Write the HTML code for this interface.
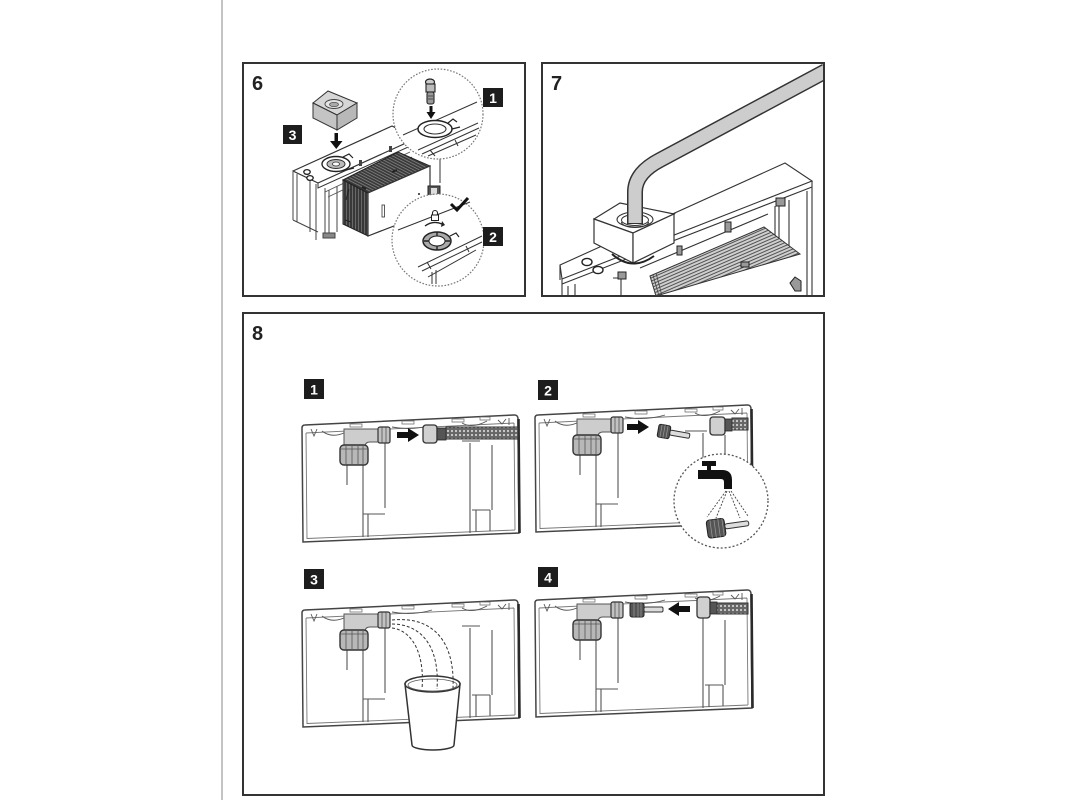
<!DOCTYPE html>
<html><head><meta charset="utf-8"><title>diagram</title>
<style>
html,body{margin:0;padding:0;background:#fff;width:1067px;height:800px;overflow:hidden}
svg{display:block}
</style></head><body>
<svg width="1067" height="800" viewBox="0 0 1067 800" xmlns="http://www.w3.org/2000/svg" font-family="'Liberation Sans', Arial, sans-serif">
<defs>
<pattern id="braid" width="4" height="4" patternUnits="userSpaceOnUse"><rect width="4" height="4" fill="#666"/><circle cx="2" cy="2" r="1.1" fill="#cfcfcf"/></pattern>
<pattern id="l6" width="2.6" height="2.6" patternUnits="userSpaceOnUse" patternTransform="rotate(27.5)"><rect width="2.6" height="2.6" fill="#3a3a3a"/><line x1="0" y1="1.3" x2="2.6" y2="1.3" stroke="#9a9a9a" stroke-width="0.6"/></pattern>
<pattern id="v6" width="3" height="3" patternUnits="userSpaceOnUse"><rect width="3" height="3" fill="#383838"/><line x1="1.5" y1="0" x2="1.5" y2="3" stroke="#8a8a8a" stroke-width="0.6"/></pattern>
<pattern id="l7" width="3" height="3" patternUnits="userSpaceOnUse" patternTransform="rotate(-23.5)"><rect width="3" height="3" fill="#cfcfcf"/><line x1="0" y1="1.5" x2="3" y2="1.5" stroke="#444" stroke-width="0.9"/></pattern>
</defs>
<rect width="1067" height="800" fill="#fff"/>
<line x1="222" y1="0" x2="222" y2="800" stroke="#c4c4c4" stroke-width="2"/>

<!-- ============ PANEL 6 ============ -->
<rect x="243" y="63" width="282" height="233" fill="#fff" stroke="#333" stroke-width="2"/>
<text x="252" y="90" font-size="20" font-weight="bold" fill="#222">6</text>

<g fill="none" stroke="#444" stroke-width="1">
<path d="M293,172 V220 M297,174 V222 M310,181 V232 M316,184 V240 M325,188 V238 M329,190 V236 M337,186 V232"/>
<path d="M293,220 L318,232"/>
<path d="M323,233 h12 v5 h-12 z" fill="#888"/>
</g>
<polygon points="293,171 392,126 417,138 318,183" fill="#fff" stroke="#333" stroke-width="1.2"/>
<path d="M318,183 L318,188 L417,143" fill="none" stroke="#333" stroke-width="1"/>
<path d="M325,192 L410,152 M328,197 L412,157" fill="none" stroke="#555" stroke-width="0.9"/>
<ellipse cx="307" cy="172" rx="3.2" ry="2.4" fill="#fff" stroke="#222" stroke-width="1.3"/>
<ellipse cx="310" cy="178" rx="3.2" ry="2.4" fill="#fff" stroke="#222" stroke-width="1.3"/>
<ellipse cx="336" cy="164" rx="14" ry="7.5" fill="#fff" stroke="#222" stroke-width="1.4"/>
<ellipse cx="336" cy="164" rx="9" ry="4.5" fill="#bbb" stroke="#333" stroke-width="1"/>
<ellipse cx="336" cy="164" rx="3.5" ry="2" fill="#fff" stroke="#333" stroke-width="0.8"/>
<path d="M343,157 l6,-3 l4,4 M346,170 l8,-2" fill="none" stroke="#222" stroke-width="1.2"/>
<rect x="359" y="160" width="3" height="6" fill="#444"/>
<rect x="389" y="146" width="3" height="6" fill="#444"/>

<polygon points="343,180 398,152 430,166 368,193" fill="url(#l6)" stroke="#222" stroke-width="1"/>
<polygon points="343,180 368,193 368,236 343,224" fill="url(#v6)" stroke="#222" stroke-width="1"/>
<polygon points="368,193 430,166 430,212 368,236" fill="#fff" stroke="#333" stroke-width="1.2"/>
<path d="M349,189 L346,200 M351,222 L345,220" stroke="#222" stroke-width="1"/>
<rect x="382" y="205" width="2.5" height="12" fill="#fff" stroke="#333" stroke-width="0.8"/>
<circle cx="419" cy="194" r="1" fill="#222"/>
<path d="M362,187 l4,2 M392,172 l5,-2" stroke="#222" stroke-width="2"/>
<path d="M440,158 V183" stroke="#333" stroke-width="1"/>
<path d="M428,186 h12 v12 h-12 z" fill="#555" stroke="#222" stroke-width="1"/>
<path d="M431,188 h6 v6 h-6 z" fill="#ddd"/>

<circle cx="438" cy="114" r="45" fill="#fff" stroke="#777" stroke-width="1.2" stroke-dasharray="1.6,1.6"/>
<g fill="none" stroke="#333" stroke-width="1">
<path d="M403,135 L477,102"/>
<path d="M418,150 L478,123 M422,154 L479,128 M428,156 L476,135"/>
<path d="M430,150 l5,6 M455,140 l3,6"/>
</g>
<ellipse cx="435" cy="129" rx="17" ry="8.5" fill="#fff" stroke="#222" stroke-width="1.5"/>
<ellipse cx="435" cy="129" rx="11" ry="5" fill="none" stroke="#333" stroke-width="1.1"/>
<path d="M448,123 l5,-4 l4,3 M452,129 l8,-2" fill="none" stroke="#222" stroke-width="1.2"/>
<ellipse cx="430" cy="82" rx="4.5" ry="3" fill="#ccc" stroke="#222" stroke-width="1.2"/>
<rect x="426" y="84" width="9" height="8" fill="#bbb" stroke="#222" stroke-width="1.1"/>
<rect x="427" y="92" width="7" height="12" rx="2" fill="#999" stroke="#222" stroke-width="1.1"/>
<path d="M428,96 h5 M428,99 h5" stroke="#333" stroke-width="0.8"/>
<path d="M429.5,106 h3 v6 h3 l-4.5,7 l-4.5,-7 h3 z" fill="#111"/>

<circle cx="438" cy="240" r="46" fill="#fff" stroke="#777" stroke-width="1.2" stroke-dasharray="1.6,1.6"/>
<g fill="none" stroke="#333" stroke-width="1">
<path d="M398,230 L470,202"/>
<path d="M418,267 L482,236 M422,271 L482,242 M428,277 L476,250"/>
<path d="M427,262 l4,7 M466,246 l3,6 M432,272 v12 M436,270 v14"/>
</g>
<ellipse cx="437" cy="241" rx="14" ry="9" fill="#aaa" stroke="#222" stroke-width="1.5"/>
<ellipse cx="437" cy="241" rx="8" ry="5" fill="#fff" stroke="#222" stroke-width="1"/>
<path d="M437,232 v4 M437,246 v4 M424,241 h5 M445,241 h5" stroke="#222" stroke-width="1.4"/>
<path d="M450,236 l6,-3 l3,4" fill="none" stroke="#222" stroke-width="1.2"/>
<path d="M425,226 Q433,220 442,224" fill="none" stroke="#222" stroke-width="1.4"/>
<path d="M442,221 l3,4 l-4,2 z" fill="#222"/>
<path d="M432.5,215 v-2 a2.5,2.5 0 0 1 5,0 v2" fill="none" stroke="#222" stroke-width="1.1"/>
<rect x="431.5" y="215" width="7" height="5.5" fill="#fff" stroke="#222" stroke-width="1"/>

<polygon points="313,103 328,91 357,103 337,115" fill="#d6d6d6" stroke="#333" stroke-width="1"/>
<polygon points="313,103 337,115 337,130 313,118" fill="#c4c4c4" stroke="#333" stroke-width="1"/>
<polygon points="337,115 357,103 357,118 337,130" fill="#b8b8b8" stroke="#333" stroke-width="1"/>
<ellipse cx="334" cy="104" rx="9" ry="4.5" fill="#e4e4e4" stroke="#444" stroke-width="0.9"/>
<ellipse cx="334" cy="104.5" rx="4.5" ry="2.2" fill="#aaa" stroke="#444" stroke-width="0.7"/>
<path d="M334.5,133 h3.5 v8 h4.5 l-6.25,8 l-6.25,-8 h4.5 z" fill="#111"/>

<rect x="283" y="125" width="19" height="19" fill="#1d1d1d"/>
<text x="292.5" y="140" font-size="14" font-weight="bold" fill="#fff" text-anchor="middle">3</text>
<rect x="483" y="88" width="20" height="19" fill="#1d1d1d"/>
<text x="493" y="103" font-size="14" font-weight="bold" fill="#fff" text-anchor="middle">1</text>
<rect x="483" y="227" width="20" height="19" fill="#1d1d1d"/>
<text x="493" y="242" font-size="14" font-weight="bold" fill="#fff" text-anchor="middle">2</text>
<path d="M451,204 L457,210 L468,198" fill="none" stroke="#111" stroke-width="3"/>

<!-- ============ PANEL 7 ============ -->
<rect x="542" y="63" width="282" height="233" fill="#fff" stroke="#333" stroke-width="2"/>
<text x="551" y="90" font-size="20" font-weight="bold" fill="#222">7</text>
<g fill="none" stroke="#333" stroke-width="1.1">
<polygon points="560,265 785,163 812,181 562,279" fill="#fff"/>
<path d="M562,284 L812,187"/>
<path d="M560,265 V280 M562,279 V296 M812,181 V296 M807,191 V296"/>
<path d="M640,268 L768,214"/>
<path d="M568,286 V296 M575,284 V296"/>
<path d="M613,278 h8 v18 M775,206 V248 h14 V200 M779,206 V248"/>
</g>
<polygon points="650,276 764,227 800,254 656,296" fill="url(#l7)" stroke="#333" stroke-width="1"/>
<path d="M650,276 L656,296 M653,275 L659,296 M656,273 L662,296" stroke="#444" stroke-width="0.8"/>
<g fill="#999" stroke="#222" stroke-width="1">
<rect x="618" y="272" width="8" height="7"/>
<rect x="677" y="246" width="5" height="9"/>
<rect x="725" y="222" width="6" height="10"/>
<rect x="776" y="198" width="9" height="8"/>
<rect x="741" y="262" width="8" height="5"/>
<path d="M790,283 l5,-6 l6,4 v10 h-6 z"/>
</g>
<ellipse cx="587" cy="262" rx="5" ry="3.6" fill="#fff" stroke="#222" stroke-width="1.4"/>
<ellipse cx="598" cy="270" rx="5" ry="3.6" fill="#fff" stroke="#222" stroke-width="1.4"/>
<polygon points="594,219 620,203 674,214 633,233" fill="#fff" stroke="#333" stroke-width="1.2"/>
<polygon points="594,219 633,233 633,263 594,243" fill="#fff" stroke="#333" stroke-width="1.2"/>
<polygon points="633,233 674,214 674,243 633,263" fill="#fff" stroke="#333" stroke-width="1.2"/>
<path d="M612,254 Q632,272 654,256" fill="none" stroke="#222" stroke-width="2"/>
<ellipse cx="635" cy="219.5" rx="18" ry="7.5" fill="#fff" stroke="#333" stroke-width="1.1"/>
<ellipse cx="635" cy="220" rx="13.5" ry="5.5" fill="#fff" stroke="#333" stroke-width="1"/>
<path d="M826,71 L660,160 Q635,173 635,192 L635,224" fill="none" stroke="#333" stroke-width="16" stroke-linejoin="round"/>
<path d="M826,71 L660,160 Q635,173 635,192 L635,223" fill="none" stroke="#cdcdcd" stroke-width="13" stroke-linejoin="round"/>
<path d="M621.5,222 A13.5,5.5 0 0 0 648.5,222" fill="none" stroke="#333" stroke-width="1"/>
<rect x="825" y="60" width="10" height="30" fill="#fff"/>
<line x1="824" y1="63" x2="824" y2="296" stroke="#333" stroke-width="2"/>

<!-- ============ PANEL 8 ============ -->
<rect x="243" y="313" width="581" height="482" fill="#fff" stroke="#333" stroke-width="2"/>
<text x="252" y="340" font-size="20" font-weight="bold" fill="#222">8</text>

<rect x="304" y="379" width="20" height="20" fill="#1d1d1d"/>
<text x="314" y="394.5" font-size="14" font-weight="bold" fill="#fff" text-anchor="middle">1</text>
<rect x="538" y="380" width="20" height="20" fill="#1d1d1d"/>
<text x="548" y="395.5" font-size="14" font-weight="bold" fill="#fff" text-anchor="middle">2</text>
<rect x="304" y="569" width="20" height="20" fill="#1d1d1d"/>
<text x="314" y="584.5" font-size="14" font-weight="bold" fill="#fff" text-anchor="middle">3</text>
<rect x="538" y="567" width="20" height="20" fill="#1d1d1d"/>
<text x="548" y="582.5" font-size="14" font-weight="bold" fill="#fff" text-anchor="middle">4</text>

<g transform="translate(302,425)">
<path d="M0,3 Q0,0 3,0 L212,-10 Q216,-10.2 216,-6 L217,108 L1,117 Z" fill="#fff" stroke="#444" stroke-width="1.5"/>
<path d="M216.5,-6 L217.5,108" stroke="#2a2a2a" stroke-width="2.6"/>
<path d="M4,8 L212,-2 M4,8 L5,114 M212,-2 L213,105 M5,113.5 L213,105" fill="none" stroke="#777" stroke-width="0.9"/>
<path d="M9,4 L12,11 L15,4 M20,6 Q30,14 44,7 M90,2 Q110,6 130,0 M160,-2 Q170,4 185,-4 M196,-5 L200,-1 L204,-6 M207,-7 L207,0" fill="none" stroke="#555" stroke-width="0.9"/>
<path d="M48,-1 h12 v3 h-12 z M100,-4 h12 v3 h-12 z M150,-6 h12 v3 h-12 z M178,-8 h10 v3 h-10 z" fill="#fff" stroke="#666" stroke-width="0.7"/>
<path d="M45,40 V60 M83,17 V83 M61,23 V112 M61,89 H83 M66,89 V112 M168,18 V108 M190,20 V85 M170,85 H188 M188,85 V106 M174,85 V107 M160,16 H178" fill="none" stroke="#555" stroke-width="1.1"/>
<path d="M42,4 H88 V17 H68 Q63,17 63,22 V24 H42 Z" fill="#cdcdcd" stroke="#555" stroke-width="1"/>
<rect x="76" y="2" width="12" height="16" rx="2" fill="#c2c2c2" stroke="#333" stroke-width="1.2"/>
<path d="M80,2.5 V17.5 M84,2.5 V17.5" stroke="#555" stroke-width="0.8"/>
<rect x="38" y="20" width="28" height="20" rx="4" fill="#b8b8b8" stroke="#333" stroke-width="1.4"/>
<path d="M44,21 V39 M50,21 V39 M56,21 V39 M61,21 V39 M38,24 H66" stroke="#555" stroke-width="0.8"/>
<path d="M95,7 H106 V3 L117,10 L106,17 V13 H95 Z" fill="#111"/>
<rect x="121" y="0" width="14" height="18" rx="3" fill="#d0d0d0" stroke="#333" stroke-width="1.3"/>
<rect x="135" y="3" width="9" height="12" fill="#555" stroke="#222" stroke-width="0.8"/>
<rect x="144" y="2" width="72" height="12" fill="url(#braid)" stroke="#333" stroke-width="1"/>
</g>

<g transform="translate(535,415)">
<path d="M0,3 Q0,0 3,0 L212,-10 Q216,-10.2 216,-6 L217,108 L1,117 Z" fill="#fff" stroke="#444" stroke-width="1.5"/>
<path d="M216.5,-6 L217.5,108" stroke="#2a2a2a" stroke-width="2.6"/>
<path d="M4,8 L212,-2 M4,8 L5,114 M212,-2 L213,105 M5,113.5 L213,105" fill="none" stroke="#777" stroke-width="0.9"/>
<path d="M9,4 L12,11 L15,4 M20,6 Q30,14 44,7 M90,2 Q110,6 130,0 M160,-2 Q170,4 185,-4 M196,-5 L200,-1 L204,-6 M207,-7 L207,0" fill="none" stroke="#555" stroke-width="0.9"/>
<path d="M48,-1 h12 v3 h-12 z M100,-4 h12 v3 h-12 z M150,-6 h12 v3 h-12 z M178,-8 h10 v3 h-10 z" fill="#fff" stroke="#666" stroke-width="0.7"/>
<path d="M45,40 V60 M83,17 V83 M61,23 V112 M61,89 H83 M66,89 V112 M168,18 V108 M190,20 V85 M170,85 H188 M188,85 V106 M174,85 V107 M150,16 H172" fill="none" stroke="#555" stroke-width="1.1"/>
<path d="M42,4 H88 V17 H68 Q63,17 63,22 V24 H42 Z" fill="#cdcdcd" stroke="#555" stroke-width="1"/>
<rect x="76" y="2" width="12" height="16" rx="2" fill="#c2c2c2" stroke="#333" stroke-width="1.2"/>
<path d="M80,2.5 V17.5 M84,2.5 V17.5" stroke="#555" stroke-width="0.8"/>
<rect x="38" y="20" width="28" height="20" rx="4" fill="#b8b8b8" stroke="#333" stroke-width="1.4"/>
<path d="M44,21 V39 M50,21 V39 M56,21 V39 M61,21 V39 M38,24 H66" stroke="#555" stroke-width="0.8"/>
<path d="M92,9 H103 V5 L114,12 L103,19 V15 H92 Z" fill="#111"/>
<g transform="rotate(10 135 17)">
<rect x="123" y="11" width="12" height="13" rx="2" fill="#555" stroke="#222" stroke-width="1"/>
<path d="M126,11 V24 M129,11 V24 M132,11 V24" stroke="#999" stroke-width="0.7"/>
<rect x="135" y="15" width="20" height="5" rx="1.5" fill="#ddd" stroke="#333" stroke-width="1"/>
</g>
<rect x="175" y="2" width="15" height="18" rx="3" fill="#d0d0d0" stroke="#333" stroke-width="1.3"/>
<rect x="190" y="4" width="7" height="12" fill="#555" stroke="#222" stroke-width="0.8"/>
<rect x="197" y="3" width="16" height="12" fill="url(#braid)" stroke="#333" stroke-width="1"/>
</g>
<circle cx="721" cy="501" r="47" fill="#fff" stroke="#555" stroke-width="1.3" stroke-dasharray="2,2"/>
<rect x="702" y="461" width="14" height="5" fill="#111"/>
<rect x="707" y="465" width="4" height="6" fill="#111"/>
<path d="M698,470 H722 Q732,470 732,480 V489 H724 V482 Q724,479 721,479 H698 Z" fill="#111"/>
<g stroke="#444" stroke-width="0.9" stroke-dasharray="2,1.5" fill="none">
<path d="M726,491 L707,517 M727,491 L716,518 M729,491 L740,518 M731,491 L748,516"/>
</g>
<g transform="rotate(-8 725 527)">
<rect x="707" y="518" width="18" height="18" rx="3" fill="#555" stroke="#222" stroke-width="1"/>
<path d="M711,518 V536 M715,518 V536 M719,518 V536 M723,518 V536" stroke="#999" stroke-width="0.7"/>
<rect x="725" y="524" width="24" height="5" rx="2" fill="#ddd" stroke="#333" stroke-width="1"/>
</g>

<g transform="translate(302,610)">
<path d="M0,3 Q0,0 3,0 L212,-10 Q216,-10.2 216,-6 L217,108 L1,117 Z" fill="#fff" stroke="#444" stroke-width="1.5"/>
<path d="M216.5,-6 L217.5,108" stroke="#2a2a2a" stroke-width="2.6"/>
<path d="M4,8 L212,-2 M4,8 L5,114 M212,-2 L213,105 M5,113.5 L213,105" fill="none" stroke="#777" stroke-width="0.9"/>
<path d="M9,4 L12,11 L15,4 M20,6 Q30,14 44,7 M90,2 Q110,6 130,0 M160,-2 Q170,4 185,-4 M196,-5 L200,-1 L204,-6 M207,-7 L207,0" fill="none" stroke="#555" stroke-width="0.9"/>
<path d="M48,-1 h12 v3 h-12 z M100,-4 h12 v3 h-12 z M150,-6 h12 v3 h-12 z M178,-8 h10 v3 h-10 z" fill="#fff" stroke="#666" stroke-width="0.7"/>
<path d="M45,40 V60 M83,17 V83 M61,23 V112 M61,89 H83 M66,89 V112 M168,18 V108 M190,20 V85 M170,85 H188 M188,85 V106 M174,85 V107 M160,16 H178" fill="none" stroke="#555" stroke-width="1.1"/>
<path d="M42,4 H88 V17 H68 Q63,17 63,22 V24 H42 Z" fill="#cdcdcd" stroke="#555" stroke-width="1"/>
<rect x="76" y="2" width="12" height="16" rx="2" fill="#c2c2c2" stroke="#333" stroke-width="1.2"/>
<path d="M80,2.5 V17.5 M84,2.5 V17.5" stroke="#555" stroke-width="0.8"/>
<rect x="38" y="20" width="28" height="20" rx="4" fill="#b8b8b8" stroke="#333" stroke-width="1.4"/>
<path d="M44,21 V39 M50,21 V39 M56,21 V39 M61,21 V39 M38,24 H66" stroke="#555" stroke-width="0.8"/>
</g>
<path d="M405,684 L412,745 A21,5 0 0 0 454,745 L460,684 Z" fill="#fff" stroke="#333" stroke-width="1.5"/>
<ellipse cx="432.5" cy="684" rx="27.5" ry="8" fill="#fff" stroke="#333" stroke-width="1.5"/>
<ellipse cx="432.5" cy="685" rx="24.5" ry="6" fill="none" stroke="#555" stroke-width="0.8"/>
<g fill="none" stroke="#333" stroke-width="1" stroke-dasharray="3,2">
<path d="M392,620 C432,616 455,640 453,688"/>
<path d="M392,624 C420,624 440,645 437,689"/>
<path d="M392,628 C410,630 425,650 422,689"/>
</g>

<g transform="translate(535,600)">
<path d="M0,3 Q0,0 3,0 L212,-10 Q216,-10.2 216,-6 L217,108 L1,117 Z" fill="#fff" stroke="#444" stroke-width="1.5"/>
<path d="M216.5,-6 L217.5,108" stroke="#2a2a2a" stroke-width="2.6"/>
<path d="M4,8 L212,-2 M4,8 L5,114 M212,-2 L213,105 M5,113.5 L213,105" fill="none" stroke="#777" stroke-width="0.9"/>
<path d="M9,4 L12,11 L15,4 M20,6 Q30,14 44,7 M90,2 Q110,6 130,0 M160,-2 Q170,4 185,-4 M196,-5 L200,-1 L204,-6 M207,-7 L207,0" fill="none" stroke="#555" stroke-width="0.9"/>
<path d="M48,-1 h12 v3 h-12 z M100,-4 h12 v3 h-12 z M150,-6 h12 v3 h-12 z M178,-8 h10 v3 h-10 z" fill="#fff" stroke="#666" stroke-width="0.7"/>
<path d="M45,40 V60 M83,17 V83 M61,23 V112 M61,89 H83 M66,89 V112 M168,18 V108 M190,20 V85 M170,85 H188 M188,85 V106 M174,85 V107" fill="none" stroke="#555" stroke-width="1.1"/>
<path d="M42,4 H88 V17 H68 Q63,17 63,22 V24 H42 Z" fill="#cdcdcd" stroke="#555" stroke-width="1"/>
<rect x="76" y="2" width="12" height="16" rx="2" fill="#c2c2c2" stroke="#333" stroke-width="1.2"/>
<path d="M80,2.5 V17.5 M84,2.5 V17.5" stroke="#555" stroke-width="0.8"/>
<rect x="38" y="20" width="28" height="20" rx="4" fill="#b8b8b8" stroke="#333" stroke-width="1.4"/>
<path d="M44,21 V39 M50,21 V39 M56,21 V39 M61,21 V39 M38,24 H66" stroke="#555" stroke-width="0.8"/>
<rect x="95" y="3" width="14" height="14" rx="2" fill="#555" stroke="#222" stroke-width="1"/>
<path d="M99,3 V17 M103,3 V17 M106,3 V17" stroke="#999" stroke-width="0.7"/>
<rect x="109" y="7" width="19" height="5" rx="1.5" fill="#ddd" stroke="#333" stroke-width="1"/>
<path d="M155,6 H144 V2 L133,9 L144,16 V12 H155 Z" fill="#111"/>
<rect x="162" y="-3" width="13" height="21" rx="3" fill="#d0d0d0" stroke="#333" stroke-width="1.3"/>
<rect x="175" y="2" width="7" height="12" fill="#555" stroke="#222" stroke-width="0.8"/>
<rect x="182" y="3" width="31" height="11" fill="url(#braid)" stroke="#333" stroke-width="1"/>
</g>
</svg>
</body></html>
